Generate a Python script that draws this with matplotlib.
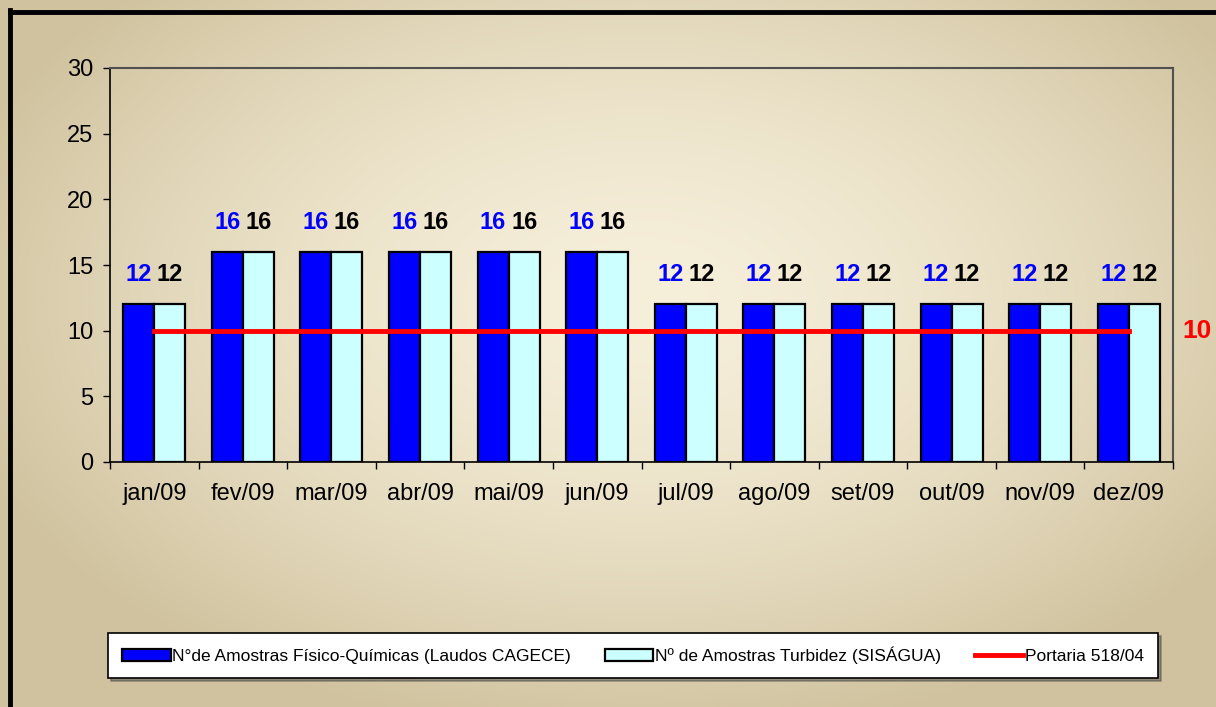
import matplotlib.pyplot as plt
from matplotlib.lines import Line2D
import numpy as np

plt.rcParams['font.family'] = ['Liberation Sans', 'DejaVu Sans']

meses = ["jan/09", "fev/09", "mar/09", "abr/09", "mai/09", "jun/09",
         "jul/09", "ago/09", "set/09", "out/09", "nov/09", "dez/09"]
fisico_quimicas = [12, 16, 16, 16, 16, 16, 12, 12, 12, 12, 12, 12]
turbidez = [12, 16, 16, 16, 16, 16, 12, 12, 12, 12, 12, 12]
portaria = [10] * 12

W, H = 1216, 707
fig = plt.figure(figsize=(W / 100, H / 100), dpi=100)

# background: soft radial gradient, light in the middle, tan at the edges
bg = fig.add_axes([0, 0, 1, 1], zorder=-10)
yy, xx = np.mgrid[0:H, 0:W]
r = np.sqrt(((xx - 640) / 720.0) ** 2 + ((yy - 300) / 440.0) ** 2)
r = np.clip(r, 0, 1) ** 1.6
c_in = np.array([246, 239, 218]) / 255.0
c_out = np.array([208, 194, 158]) / 255.0
img = c_in[None, None, :] * (1 - r[..., None]) + c_out[None, None, :] * r[..., None]
bg.imshow(img, aspect='auto', extent=[0, 1, 0, 1], origin='upper')
bg.set_axis_off()

# black frame (top and left visible)
fig.add_artist(Line2D([10 / W, 10 / W], [0, 1 - 10 / H], color='black',
                      lw=3.5, transform=fig.transFigure))
fig.add_artist(Line2D([10 / W, 1], [1 - 11.5 / H, 1 - 11.5 / H], color='black',
                      lw=3.5, transform=fig.transFigure))

ax = fig.add_axes([110 / W, 1 - 462 / H, 1063 / W, 394 / H])
ax.set_facecolor('none')

x = np.arange(len(meses))
w = 0.35
b1 = ax.bar(x - w / 2, fisico_quimicas, w, color='#0000ff', edgecolor='black',
            linewidth=1.6, label='N°de Amostras Físico-Químicas (Laudos CAGECE)', zorder=2)
b2 = ax.bar(x + w / 2, turbidez, w, color='#ccffff', edgecolor='black',
            linewidth=1.6, label='Nº de Amostras Turbidez (SISÁGUA)', zorder=2)
ax.plot(x, portaria, color='#ff0000', lw=3.5, label='Portaria 518/04', zorder=3)

for xi, v in zip(x, fisico_quimicas):
    ax.annotate(str(v), (xi - w / 2, v), xytext=(0, 13), textcoords='offset points',
                ha='center', va='bottom', color='#0000ff', fontsize=17, fontweight='bold')
for xi, v in zip(x, turbidez):
    ax.annotate(str(v), (xi + w / 2, v), xytext=(0, 13), textcoords='offset points',
                ha='center', va='bottom', color='black', fontsize=17, fontweight='bold')

ax.text(1.0226, portaria[-1], str(portaria[-1]), transform=ax.get_yaxis_transform(),
        ha='center', va='center', color='#ff0000', fontsize=19, fontweight='bold')

ax.set_xlim(-0.5, len(meses) - 0.5)
ax.set_ylim(0, 30)
ax.set_yticks(range(0, 31, 5))
ax.tick_params(axis='y', labelsize=17, length=5, width=1, pad=7)
ax.set_xticks(np.arange(-0.5, len(meses), 1))
ax.set_xticklabels([])
ax.tick_params(axis='x', which='major', length=5, width=1)
ax.set_xticks(x, minor=True)
ax.set_xticklabels(meses, minor=True)
ax.tick_params(axis='x', which='minor', length=0, labelsize=17, pad=15)

for s in ['top', 'right']:
    ax.spines[s].set_color('#505050')
    ax.spines[s].set_linewidth(1.5)
for s in ['left', 'bottom']:
    ax.spines[s].set_color('black')
    ax.spines[s].set_linewidth(1.2)

leg = fig.legend(handles=[b1, b2, ax.lines[0]], loc='center', ncol=3,
                 bbox_to_anchor=(108 / W, 1 - 684 / H, 1050 / W, 57 / H),
                 mode='expand', fontsize=12.5, frameon=True, fancybox=False,
                 shadow=True, handlelength=2.8, handletextpad=0.1,
                 borderaxespad=0, borderpad=0.8)
leg.get_frame().set_edgecolor('black')
leg.get_frame().set_linewidth(1.2)

fig.savefig('out.png', dpi=100)
